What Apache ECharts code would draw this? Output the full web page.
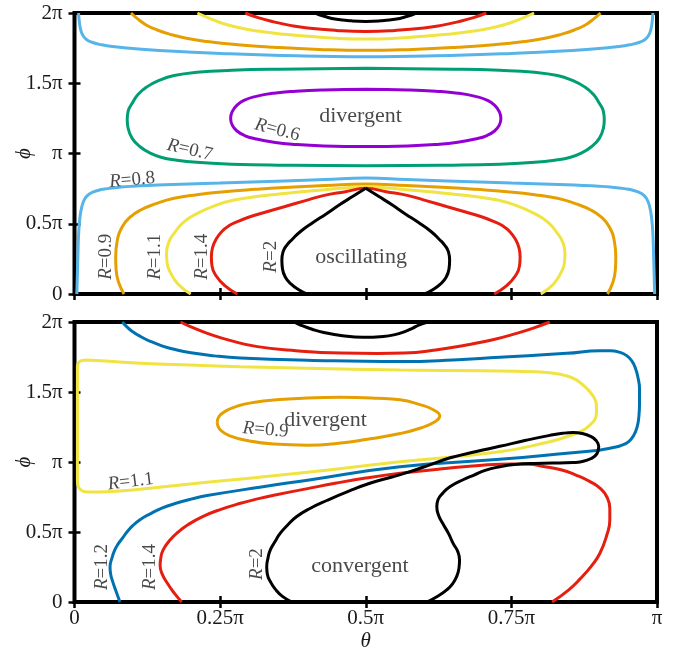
<!DOCTYPE html>
<html><head><meta charset="utf-8">
<script src="https://cdn.jsdelivr.net/npm/echarts@6/dist/echarts.min.js"></script>
<style>html,body{margin:0;padding:0;background:#fff}#c{width:689px;height:653px}</style>
</head><body><div id="c"></div>
<script>
// axis tick labels (theta/pi, phi/pi)
const thetaTicks = ['0','0.25π','0.5π','0.75π','π'];
const phiTicks = ['0','0.5π','π','1.5π','2π'];

// ---- top panel contours: [theta/pi, phi/pi]
const topR06 = [[0.5,1.457],[0.428,1.452],[0.38,1.443],[0.342,1.429],[0.31,1.405],[0.292,1.38],[0.279,1.345],[0.271,1.3],[0.268,1.25],[0.271,1.2],[0.279,1.16],[0.292,1.128],[0.31,1.105],[0.342,1.08],[0.38,1.064],[0.428,1.054],[0.5,1.05],[0.572,1.054],[0.62,1.064],[0.658,1.08],[0.69,1.105],[0.708,1.128],[0.721,1.16],[0.729,1.2],[0.732,1.25],[0.729,1.3],[0.721,1.345],[0.708,1.38],[0.69,1.405],[0.658,1.429],[0.62,1.443],[0.572,1.452],[0.5,1.457]];
const topR07 = [[0.5,1.606],[0.35,1.6],[0.27,1.592],[0.21,1.578],[0.171,1.555],[0.145,1.52],[0.125,1.476],[0.109,1.42],[0.099,1.357],[0.092,1.3],[0.0905,1.24],[0.092,1.18],[0.099,1.108],[0.112,1.05],[0.131,1.001],[0.15,0.972],[0.171,0.955],[0.21,0.937],[0.27,0.924],[0.35,0.917],[0.5,0.913],[0.65,0.917],[0.73,0.924],[0.79,0.937],[0.829,0.955],[0.85,0.972],[0.869,1.001],[0.888,1.05],[0.901,1.108],[0.908,1.18],[0.9095,1.24],[0.908,1.3],[0.901,1.357],[0.891,1.42],[0.875,1.476],[0.855,1.52],[0.829,1.555],[0.79,1.578],[0.73,1.592],[0.65,1.6],[0.5,1.606]];
const topR08Upper = [[0.007,2.0],[0.0085,1.93],[0.011,1.875],[0.015,1.836],[0.021,1.81],[0.03,1.792],[0.045,1.775],[0.065,1.761],[0.1,1.748],[0.171,1.727],[0.25,1.712],[0.342,1.7],[0.5,1.689],[0.658,1.7],[0.75,1.712],[0.829,1.727],[0.9,1.748],[0.935,1.761],[0.955,1.775],[0.97,1.792],[0.979,1.81],[0.985,1.836],[0.989,1.875],[0.9915,1.93],[0.993,2.0]];
const topR08Lower = [[0.004,0],[0.005,0.15],[0.006,0.3],[0.007,0.42],[0.009,0.53],[0.0125,0.62],[0.018,0.68],[0.026,0.713],[0.04,0.737],[0.056,0.75],[0.08,0.761],[0.1,0.767],[0.142,0.776],[0.25,0.79],[0.36,0.805],[0.43,0.815],[0.5,0.825],[0.57,0.815],[0.64,0.805],[0.75,0.79],[0.858,0.776],[0.9,0.767],[0.92,0.761],[0.944,0.75],[0.96,0.737],[0.974,0.713],[0.982,0.68],[0.9875,0.62],[0.991,0.53],[0.993,0.42],[0.994,0.3],[0.995,0.15],[0.996,0]];
const topR09Upper = [[0.097,2.0],[0.108,1.96],[0.123,1.915],[0.142,1.879],[0.163,1.85],[0.19,1.822],[0.228,1.797],[0.28,1.774],[0.342,1.756],[0.42,1.741],[0.5,1.734],[0.58,1.741],[0.658,1.756],[0.72,1.774],[0.772,1.797],[0.81,1.822],[0.837,1.85],[0.858,1.879],[0.877,1.915],[0.892,1.96],[0.903,2.0]];
const topR09Lower = [[0.085,0],[0.076,0.08],[0.0715,0.17],[0.0707,0.265],[0.073,0.37],[0.082,0.479],[0.095,0.545],[0.1136,0.598],[0.14,0.643],[0.171,0.681],[0.21,0.707],[0.257,0.728],[0.31,0.745],[0.36,0.758],[0.43,0.772],[0.5,0.783],[0.57,0.772],[0.64,0.758],[0.69,0.745],[0.743,0.728],[0.79,0.707],[0.829,0.681],[0.86,0.643],[0.8864,0.598],[0.905,0.545],[0.918,0.479],[0.927,0.37],[0.9293,0.265],[0.9285,0.17],[0.924,0.08],[0.915,0]];
const topR11Upper = [[0.211,2.0],[0.23,1.965],[0.255,1.925],[0.285,1.893],[0.32,1.868],[0.36,1.848],[0.4,1.834],[0.45,1.82],[0.5,1.815],[0.55,1.82],[0.6,1.834],[0.64,1.848],[0.68,1.868],[0.715,1.893],[0.745,1.925],[0.77,1.965],[0.789,2.0]];
const topR11Lower = [[0.1995,0],[0.178,0.07],[0.165,0.15],[0.159,0.22],[0.158,0.29],[0.162,0.37],[0.171,0.432],[0.187,0.51],[0.211,0.574],[0.24,0.627],[0.274,0.669],[0.32,0.697],[0.36,0.715],[0.43,0.742],[0.5,0.762],[0.57,0.742],[0.64,0.715],[0.68,0.697],[0.726,0.669],[0.76,0.627],[0.789,0.574],[0.813,0.51],[0.829,0.432],[0.838,0.37],[0.842,0.29],[0.841,0.22],[0.835,0.15],[0.822,0.07],[0.8005,0]];
const topR14Upper = [[0.293,2.0],[0.315,1.967],[0.342,1.937],[0.37,1.912],[0.4,1.893],[0.45,1.876],[0.5,1.869],[0.55,1.876],[0.6,1.893],[0.63,1.912],[0.658,1.937],[0.685,1.967],[0.707,2.0]];
const topR14Lower = [[0.2795,0],[0.258,0.06],[0.243,0.13],[0.236,0.2],[0.235,0.265],[0.237,0.33],[0.243,0.39],[0.253,0.445],[0.265,0.485],[0.2795,0.515],[0.3,0.548],[0.33,0.585],[0.36,0.621],[0.395,0.663],[0.427,0.7],[0.465,0.728],[0.5,0.752],[0.535,0.728],[0.573,0.7],[0.605,0.663],[0.64,0.621],[0.67,0.585],[0.7,0.548],[0.7205,0.515],[0.735,0.485],[0.747,0.445],[0.757,0.39],[0.763,0.33],[0.765,0.265],[0.764,0.2],[0.757,0.13],[0.742,0.06],[0.7205,0]];
const topR2Upper = [[0.413,2.0],[0.43,1.975],[0.45,1.955],[0.475,1.944],[0.5,1.94],[0.525,1.944],[0.55,1.955],[0.57,1.975],[0.587,2.0]];
const topR2LowerLeft = [[0.399,0],[0.385,0.03],[0.372,0.07],[0.362,0.12],[0.357,0.18],[0.356,0.242],[0.358,0.3],[0.364,0.345],[0.374,0.39],[0.388,0.445],[0.41,0.51],[0.432,0.57],[0.455,0.635],[0.478,0.695],[0.5,0.752]];
const topR2LowerRight = [[0.5,0.752],[0.522,0.695],[0.545,0.635],[0.568,0.57],[0.59,0.51],[0.612,0.445],[0.626,0.39],[0.636,0.345],[0.642,0.3],[0.644,0.242],[0.643,0.18],[0.638,0.12],[0.628,0.07],[0.615,0.03],[0.601,0]];

// ---- bottom panel contours
const botR09 = [[0.245,1.28],[0.248,1.325],[0.26,1.365],[0.28,1.4],[0.31,1.427],[0.342,1.443],[0.4,1.458],[0.457,1.462],[0.52,1.456],[0.559,1.445],[0.593,1.41],[0.615,1.375],[0.627,1.33],[0.618,1.285],[0.593,1.241],[0.559,1.203],[0.5,1.16],[0.457,1.135],[0.4,1.12],[0.342,1.128],[0.3,1.15],[0.268,1.185],[0.25,1.23],[0.245,1.28]];
const botR11 = [[0.022,1.729],[0.06,1.72],[0.114,1.705],[0.2,1.692],[0.285,1.681],[0.4,1.67],[0.559,1.657],[0.7,1.652],[0.788,1.645],[0.82,1.635],[0.845,1.615],[0.86,1.59],[0.873,1.55],[0.885,1.5],[0.894,1.443],[0.896,1.4],[0.896,1.359],[0.895,1.32],[0.888,1.276],[0.878,1.24],[0.862,1.205],[0.845,1.18],[0.816,1.145],[0.73,1.073],[0.559,1.002],[0.4,0.926],[0.227,0.855],[0.1,0.8],[0.056,0.788],[0.03,0.786],[0.016,0.79],[0.01,0.805],[0.006,0.83],[0.005,0.871],[0.005,1.2],[0.005,1.538],[0.005,1.68],[0.007,1.71],[0.013,1.725],[0.022,1.729]];
const botR12 = [[0.082,2.0],[0.09,1.965],[0.1,1.93],[0.114,1.895],[0.13,1.862],[0.15,1.83],[0.171,1.805],[0.2,1.78],[0.24,1.758],[0.285,1.743],[0.4,1.727],[0.559,1.717],[0.65,1.728],[0.73,1.748],[0.845,1.776],[0.902,1.795],[0.92,1.795],[0.935,1.785],[0.948,1.76],[0.957,1.72],[0.963,1.67],[0.967,1.609],[0.97,1.52],[0.97,1.419],[0.969,1.33],[0.966,1.252],[0.96,1.19],[0.952,1.148],[0.94,1.12],[0.925,1.103],[0.905,1.088],[0.891,1.081],[0.845,1.062],[0.73,1.019],[0.559,0.966],[0.4,0.87],[0.318,0.82],[0.2275,0.76],[0.2,0.735],[0.174,0.705],[0.15,0.67],[0.13,0.63],[0.113,0.59],[0.1,0.545],[0.09,0.5],[0.083,0.46],[0.075,0.415],[0.069,0.37],[0.064,0.31],[0.061,0.25],[0.062,0.2],[0.066,0.14],[0.071,0.08],[0.078,0]];
const botR14Upper = [[0.182,2.0],[0.2,1.965],[0.228,1.919],[0.27,1.865],[0.314,1.824],[0.38,1.795],[0.457,1.778],[0.52,1.775],[0.566,1.778],[0.62,1.8],[0.673,1.836],[0.72,1.875],[0.759,1.919],[0.79,1.96],[0.816,2.0]];
const botR14Lower = [[0.184,0],[0.172,0.06],[0.16,0.13],[0.15,0.205],[0.147,0.26],[0.148,0.31],[0.152,0.371],[0.164,0.443],[0.178,0.5],[0.196,0.555],[0.22,0.61],[0.25,0.66],[0.285,0.705],[0.318,0.74],[0.342,0.762],[0.4,0.81],[0.45,0.85],[0.5,0.885],[0.559,0.919],[0.64,0.955],[0.7,0.977],[0.75,0.985],[0.78,0.984],[0.805,0.968],[0.835,0.945],[0.862,0.905],[0.885,0.86],[0.903,0.81],[0.914,0.75],[0.919,0.67],[0.919,0.586],[0.914,0.48],[0.902,0.348],[0.888,0.26],[0.868,0.165],[0.848,0.085],[0.82,0]];
const botR2Upper = [[0.377,2.0],[0.39,1.975],[0.408,1.948],[0.428,1.925],[0.46,1.902],[0.495,1.891],[0.53,1.897],[0.55,1.91],[0.566,1.93],[0.58,1.955],[0.592,1.98],[0.607,2.0]];
const botR2Lower = [[0.373,0],[0.357,0.04],[0.345,0.09],[0.337,0.14],[0.331,0.2],[0.33,0.252],[0.332,0.31],[0.336,0.371],[0.344,0.43],[0.353,0.49],[0.366,0.55],[0.381,0.609],[0.405,0.67],[0.433,0.725],[0.47,0.79],[0.507,0.848],[0.545,0.893],[0.576,0.931],[0.61,0.98],[0.645,1.03],[0.69,1.075],[0.73,1.112],[0.775,1.155],[0.816,1.19],[0.838,1.205],[0.856,1.21],[0.872,1.203],[0.885,1.185],[0.895,1.155],[0.9,1.11],[0.897,1.06],[0.887,1.025],[0.87,1.002],[0.856,0.996],[0.82,0.992],[0.788,0.99],[0.755,0.982],[0.73,0.966],[0.705,0.94],[0.685,0.905],[0.668,0.875],[0.645,0.825],[0.632,0.776],[0.624,0.73],[0.622,0.681],[0.625,0.62],[0.632,0.562],[0.642,0.49],[0.65,0.419],[0.658,0.36],[0.661,0.3],[0.66,0.24],[0.656,0.181],[0.649,0.13],[0.639,0.086],[0.625,0.045],[0.605,0]];

// ---- annotation texts with anchor [theta/pi, phi/pi]
const topNotes = [['R=0.6',0.348,1.167],['R=0.7',0.198,1.025],['R=0.8',0.099,0.811],['R=0.9',0.0535,0.265],['R=1.1',0.139,0.265],['R=1.4',0.219,0.265],['R=2',0.337,0.265]];
const topRegions = [['divergent',0.491,1.262],['oscillating',0.492,0.261]];
const botNotes = [['R=0.9',0.328,1.229],['R=1.1',0.0965,0.859],['R=1.2',0.0467,0.25],['R=1.4',0.13,0.25],['R=2',0.313,0.271]];
const botRegions = [['divergent',0.431,1.295],['convergent',0.49,0.259]];

// styles
const topNoteAngles = [-15,-13,5,90,90,90,90];
const botNoteAngles = [-5,7,90,90,90];
const FONT = "'Liberation Serif','DejaVu Serif',serif";
const TXT = '#1a1a1a';
const C = {purple:'#9400d3', green:'#009e73', sky:'#56b4e9', orange:'#e69f00', yellow:'#f0e442', red:'#e51e10', black:'#000000', blue:'#0072b2'};

function line(data, color, g){
  return {type:'line', xAxisIndex:g*2, yAxisIndex:g*2, data:data, showSymbol:false, symbol:'none',
    smooth:0.5, silent:true, animation:false, clip:true, lineStyle:{color:color, width:3}};
}
function notes(list, angles, g){
  return {type:'scatter', xAxisIndex:g*2, yAxisIndex:g*2, symbolSize:0, silent:true, animation:false, z:10,
    data: list.map((n,i)=>({value:[n[1],n[2]], label:{show:true, position:'inside', rotate:angles[i],
      formatter: '{i|R}' + n[0].slice(1), color:TXT, fontFamily:FONT, fontSize:19,
      rich:{i:{fontStyle:'italic', fontFamily:FONT, fontSize:19, color:TXT}}}}))};
}
function regions(list, g){
  return {type:'scatter', xAxisIndex:g*2, yAxisIndex:g*2, symbolSize:0, silent:true, animation:false, z:10,
    data: list.map(n=>({value:[n[1],n[2]], label:{show:true, position:'inside', formatter:n[0],
      color:TXT, fontFamily:FONT, fontSize:22}}))};
}

const tick = {inside:true, length:6, lineStyle:{color:'#000', width:2.5}};
function xAx(g, pos, labels){
  const a = {gridIndex:g, type:'value', min:0, max:1, interval:0.25, position:pos,
    axisLine:{show:false}, axisTick:tick, splitLine:{show:false},
    axisLabel:{show:!!labels, formatter:v=>thetaTicks[Math.round(v/0.25)], color:TXT, fontFamily:FONT, fontSize:21, margin:6}};
  if (labels){ a.name='θ'; a.nameLocation='middle'; a.nameGap=29; a.nameMoveOverlap=false;
    a.nameTextStyle={fontStyle:'italic', fontFamily:FONT, fontSize:21, color:TXT}; }
  return a;
}
function yAx(g, pos, labels){
  const a = {gridIndex:g, type:'value', min:0, max:2, interval:0.5, position:pos,
    axisLine:{show:false}, axisTick:tick, splitLine:{show:false},
    axisLabel:{show:!!labels, formatter:v=>phiTicks[Math.round(v/0.5)], color:TXT, fontFamily:FONT, fontSize:21, margin:12}};
  if (labels){ a.name='\u03d5'; a.nameLocation='middle'; a.nameGap=40; a.nameRotate=90; a.nameMoveOverlap=false;
    a.nameTextStyle={fontStyle:'italic', fontFamily:FONT, fontSize:21, color:TXT}; }
  return a;
}

const chart = echarts.init(document.getElementById('c'), null, {renderer:'canvas'});
chart.setOption({
  animation:false,
  backgroundColor:'#fff',
  grid:[
    {left:74.5, top:13, width:582.5, height:281, containLabel:false, outerBoundsMode:'none', show:true, borderColor:'#000', borderWidth:4, backgroundColor:'transparent'},
    {left:74.5, top:322, width:582.5, height:280, containLabel:false, outerBoundsMode:'none', show:true, borderColor:'#000', borderWidth:4, backgroundColor:'transparent'}
  ],
  xAxis:[xAx(0,'bottom',false), xAx(0,'top',false), xAx(1,'bottom',true), xAx(1,'top',false)],
  yAxis:[yAx(0,'left',true), yAx(0,'right',false), yAx(1,'left',true), yAx(1,'right',false)],
  series:[
    line(topR06, C.purple, 0),
    line(topR07, C.green, 0),
    line(topR08Upper, C.sky, 0), line(topR08Lower, C.sky, 0),
    line(topR09Upper, C.orange, 0), line(topR09Lower, C.orange, 0),
    line(topR11Upper, C.yellow, 0), line(topR11Lower, C.yellow, 0),
    line(topR14Upper, C.red, 0), line(topR14Lower, C.red, 0),
    line(topR2Upper, C.black, 0), line(topR2LowerLeft, C.black, 0), line(topR2LowerRight, C.black, 0),
    line(botR09, C.orange, 1),
    line(botR11, C.yellow, 1),
    line(botR12, C.blue, 1),
    line(botR14Upper, C.red, 1), line(botR14Lower, C.red, 1),
    line(botR2Upper, C.black, 1), line(botR2Lower, C.black, 1),
    notes(topNotes, topNoteAngles, 0), regions(topRegions, 0),
    notes(botNotes, botNoteAngles, 1), regions(botRegions, 1)
  ]
});
</script></body></html>
